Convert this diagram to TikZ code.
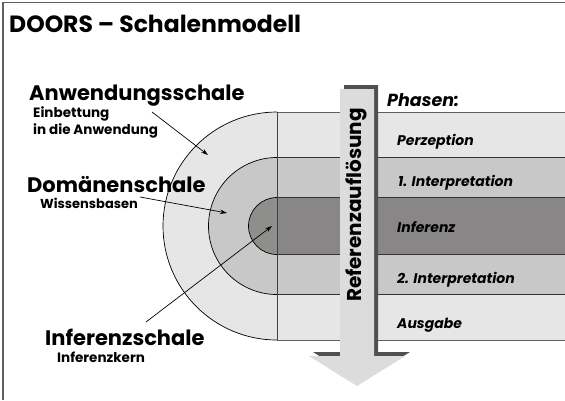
\documentclass[tikz,border=0pt]{standalone}
\usepackage{fontspec}
\setmainfont{Poppins}
\usetikzlibrary{arrows.meta}
\definecolor{shellA}{HTML}{E6E6E6}
\definecolor{shellB}{HTML}{C8C8C8}
\definecolor{shellC}{HTML}{898687}
\definecolor{coreL}{HTML}{8E8F8B}
\definecolor{arrowL}{HTML}{DCDCDC}
\definecolor{arrowD}{HTML}{505050}
\definecolor{frameC}{HTML}{606060}
\tikzset{
  bandline/.style={draw=black!80, line width=0.8pt},
  shellline/.style={draw=black, line width=0.7pt},
  pointer/.style={draw=black, line width=0.7pt, -{Stealth[length=7pt,width=4.5pt]}},
  bigtitle/.style={anchor=base west, inner sep=0pt, font=\fontsize{23.5}{28}\selectfont\bfseries},
  shelltitle/.style={anchor=base west, inner sep=0pt, font=\fontsize{21}{24}\selectfont\bfseries},
  shellsub/.style={anchor=base west, inner sep=0pt, font=\fontsize{13.5}{16}\selectfont\bfseries},
  phase/.style={anchor=base west, inner sep=0pt, font=\fontsize{14}{16}\selectfont\bfseries\itshape},
}
\begin{document}
\begin{tikzpicture}[x=1pt,y=-1pt]
\useasboundingbox (0,0) rectangle (565,400);
\fill[white] (0,0) rectangle (565,400);
% frame
\draw[frameC, line width=1.5pt] (3,400) -- (3,2.5) -- (565,2.5);
% bands
\fill[shellA] (277,112) rectangle (565,340);
\fill[shellB] (277,157.5) rectangle (565,294.5);
\fill[shellC] (277,197.5) rectangle (565,254.5);
% half discs
\filldraw[fill=shellA, shellline] (277,112) arc[start angle=270, end angle=90, radius=114];
\filldraw[fill=shellB, shellline] (277,157.5) arc[start angle=270, end angle=90, radius=68.5];
\filldraw[fill=coreL, shellline] (277,197.5) arc[start angle=270, end angle=90, radius=28.5];
% band lines
\draw[frameC, line width=0.9pt] (277,112) -- (565,112);
\draw[frameC, line width=0.9pt] (277,340) -- (565,340);
\draw[bandline] (277,157.5) -- (565,157.5);
\draw[bandline] (277,294.5) -- (565,294.5);
\draw[bandline] (277,197.5) -- (565,197.5);
\draw[bandline] (277,254.5) -- (565,254.5);
\draw[black!75, line width=0.6pt] (277,112) -- (277,340);
% big arrow with shadow
\fill[arrowD] (344,85) -- (378,85) -- (378,352) -- (410,352) -- (361,382) -- (313,352) -- (344,352) -- cycle;
\fill[arrowL] (340,89) -- (374,89) -- (374,356) -- (405,356) -- (357,386) -- (309,356) -- (340,356) -- cycle;
\node[rotate=90, inner sep=0pt, font=\fontsize{20}{24}\selectfont\bfseries] (ref) at (356,205) {Referenzauflösung};
% title
\node[bigtitle] (title) at (9,32) {DOORS – Schalenmodell};
% shell labels
\node[shelltitle] (anw) at (29,100) {Anwendungsschale};
\node[shellsub] (anw1) at (33,117) {Einbettung};
\node[shellsub] (anw2) at (33,134) {in die Anwendung};
\node[shelltitle] (dom) at (27,192) {Domänenschale};
\node[shellsub, font=\fontsize{13}{16}\selectfont\bfseries] (dom1) at (40,208) {Wissensbasen};
\node[shelltitle] (inf) at (45,345) {Inferenzschale};
\node[shellsub] (inf1) at (57,362) {Inferenzkern};
% phases
\node[phase, font=\fontsize{17.5}{20}\selectfont\bfseries\itshape] (ph) at (387,106) {Phasen:};
\node[phase] (p1) at (397,145) {Perzeption};
\node[phase] (p2) at (398,186) {1. Interpretation};
\node[phase] (p3) at (397,232) {Inferenz};
\node[phase] (p4) at (397,283) {2. Interpretation};
\node[phase] (p5) at (397,328) {Ausgabe};
% pointers
\coordinate (a0) at (152,112);
\coordinate (a1) at (208,155);
\coordinate (d0) at (140,197);
\coordinate (d1) at (227,213);
\coordinate (i0) at (146,322);
\coordinate (i1) at (272,226);
\draw[pointer] (a0) -- (a1);
\draw[pointer] (d0) -- (d1);
\draw[pointer] (i0) -- (i1);
\end{tikzpicture}
\end{document}
